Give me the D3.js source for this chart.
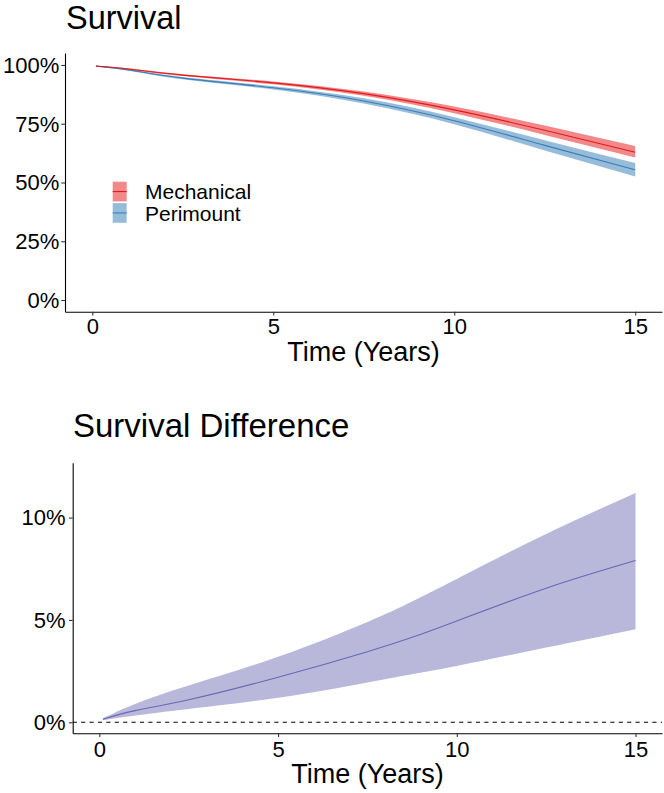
<!DOCTYPE html>
<html>
<head>
<meta charset="utf-8">
<script src="https://cdn.jsdelivr.net/npm/d3@7"></script>
<style>
  html, body { margin: 0; padding: 0; background: #fff; }
  svg { display: block; font-family: "Liberation Sans", Arial, Helvetica, sans-serif; }
</style>
</head>
<body>
<svg id="chart" width="664" height="793"></svg>
<script>
// ---- Data ----
const times = [0.1, 1, 2.5, 5, 7.5, 10, 12.5, 15];

const mechanical     = [99.6, 98.3, 95.7, 92.4, 87.8, 80.9, 72.2, 62.9];
const mechanicalLow  = [99.5, 98.0, 95.3, 91.8, 86.9, 79.5, 70.2, 60.6];
const mechanicalHigh = [99.7, 98.6, 96.1, 93.0, 88.7, 82.3, 74.2, 65.5];

const perimount      = [99.5, 97.9, 94.4, 90.3, 84.7, 76.3, 65.8, 55.4];
const perimountLow   = [99.4, 97.6, 93.9, 89.6, 83.6, 74.8, 63.6, 52.6];
const perimountHigh  = [99.6, 98.2, 94.9, 91.0, 85.8, 77.8, 68.0, 58.3];

const diffTimes = [0.1, 1, 2.5, 5, 7.5, 8.75, 10, 12.5, 15];
const diff     = [0.15, 0.57, 1.10, 2.20, 3.45, 4.15, 4.95, 6.55, 7.90];
const diffLow  = [0.10, 0.33, 0.65, 1.20, 1.95, 2.35, 2.75, 3.65, 4.55];
const diffHigh = [0.20, 0.90, 1.80, 3.20, 4.90, 5.90, 7.00, 9.20, 11.20];

const xTicks = [0, 5, 10, 15];
const survivalTicks = [0, 25, 50, 75, 100];
const diffTicks = [0, 5, 10];
const seriesNames = ["Mechanical", "Perimount"];

// ---- Styles ----
const redLine = "#E41A1C", redFill = "rgba(228,26,28,0.52)";
const blueLine = "#377EB8", blueFill = "rgba(55,126,184,0.52)";
const purpleLine = "#6A66B6", purpleFill = "#B9B8DB";

const svg = d3.select("#chart");

function rows(ts, lo, mid, hi) {
  return ts.map((t, i) => ({ t, lo: lo[i], mid: mid[i], hi: hi[i] }));
}

function styleAxis(g) {
  g.select(".domain").attr("stroke", "#000").attr("stroke-width", 1.1);
  g.selectAll(".tick line").attr("stroke", "#333").attr("stroke-width", 1.1);
  g.selectAll(".tick text").attr("fill", "#000").attr("font-size", 22)
    .attr("font-family", "Liberation Sans, Arial, sans-serif");
}

// ================= Panel 1: Survival =================
{
  const x = d3.scaleLinear().domain([-0.754, 15.74]).range([65, 662]);
  const y = d3.scaleLinear().domain([-4.98, 105.1]).range([311.7, 53]);

  const g = svg.append("g");

  const area = d3.area().curve(d3.curveNatural)
    .x(d => x(d.t)).y0(d => y(d.lo)).y1(d => y(d.hi));
  const line = d3.line().curve(d3.curveNatural)
    .x(d => x(d.t)).y(d => y(d.mid));

  const mech = rows(times, mechanicalLow, mechanical, mechanicalHigh);
  const peri = rows(times, perimountLow, perimount, perimountHigh);

  g.append("path").datum(peri).attr("d", area).attr("fill", blueFill);
  g.append("path").datum(mech).attr("d", area).attr("fill", redFill);
  g.append("path").datum(peri).attr("d", line).attr("fill", "none").attr("stroke", blueLine).attr("stroke-width", 1.1);
  g.append("path").datum(mech).attr("d", line).attr("fill", "none").attr("stroke", redLine).attr("stroke-width", 1.1);

  const xa = g.append("g").attr("transform", "translate(0,311.7)")
    .call(d3.axisBottom(x).tickValues(xTicks).tickSizeOuter(0).tickSizeInner(3.7).tickPadding(3));
  styleAxis(xa);
  xa.selectAll(".tick text").attr("y", 0).attr("dy", 0).attr("transform", "translate(0,22.3)");

  const ya = g.append("g").attr("transform", "translate(65,0)")
    .call(d3.axisLeft(y).tickValues(survivalTicks).tickSizeOuter(0).tickSizeInner(3.7).tickPadding(2)
      .tickFormat(d => d + "%"));
  styleAxis(ya);
  ya.selectAll(".tick text").attr("dy", "0.33em");

  // Title
  svg.append("text").attr("x", 66).attr("y", 29).attr("font-size", 32.5).attr("fill", "#000")
    .text("Survival");

  // Axis title
  svg.append("text").attr("x", 363.5).attr("y", 361).attr("text-anchor", "middle")
    .attr("font-size", 27).attr("fill", "#000").text("Time (Years)");

  // Legend
  const legendY = [181.7, 203.1];
  const fills = [redFill, blueFill];
  const strokes = [redLine, blueLine];
  seriesNames.forEach((name, i) => {
    const lg = svg.append("g").attr("transform", `translate(112.7,${legendY[i]})`);
    lg.append("rect").attr("width", 14).attr("height", 19.7).attr("fill", fills[i]);
    lg.append("line").attr("x1", 0).attr("x2", 14).attr("y1", 9.85).attr("y2", 9.85)
      .attr("stroke", strokes[i]).attr("stroke-width", 1.1);
    lg.append("text").attr("x", 32.3).attr("y", 17.4).attr("font-size", 21).attr("fill", "#000")
      .text(name);
  });
}

// ================= Panel 2: Survival Difference =================
{
  const x = d3.scaleLinear().domain([-0.744, 15.74]).range([72.7, 662]);
  const y = d3.scaleLinear().domain([-0.537, 12.68]).range([733.3, 462.7]);

  const g = svg.append("g");
  const data = rows(diffTimes, diffLow, diff, diffHigh);

  const area = d3.area().curve(d3.curveNatural)
    .x(d => x(d.t)).y0(d => y(d.lo)).y1(d => y(d.hi));
  const line = d3.line().curve(d3.curveNatural)
    .x(d => x(d.t)).y(d => y(d.mid));

  g.append("path").datum(data).attr("d", area).attr("fill", purpleFill);
  g.append("path").datum(data).attr("d", line).attr("fill", "none")
    .attr("stroke", purpleLine).attr("stroke-width", 1.1);

  // Reference line at 0
  g.append("line").attr("x1", x.range()[0]).attr("x2", x.range()[1])
    .attr("y1", y(0)).attr("y2", y(0))
    .attr("stroke", "#000").attr("stroke-width", 1.1).attr("stroke-dasharray", "4.2,4.2");

  const xa = g.append("g").attr("transform", "translate(0,733.3)")
    .call(d3.axisBottom(x).tickValues(xTicks).tickSizeOuter(0).tickSizeInner(3.7).tickPadding(3));
  styleAxis(xa);
  xa.selectAll(".tick text").attr("y", 0).attr("dy", 0).attr("transform", "translate(0,23.6)");

  const ya = g.append("g").attr("transform", "translate(72.7,0)")
    .call(d3.axisLeft(y).tickValues(diffTicks).tickSizeOuter(0).tickSizeInner(3.7).tickPadding(3.5)
      .tickFormat(d => d + "%"));
  styleAxis(ya);
  ya.selectAll(".tick text").attr("dy", "0.33em");

  svg.append("text").attr("x", 73).attr("y", 437).attr("font-size", 33).attr("fill", "#000")
    .text("Survival Difference");

  svg.append("text").attr("x", 367.5).attr("y", 783).attr("text-anchor", "middle")
    .attr("font-size", 27).attr("fill", "#000").text("Time (Years)");
}
</script>
</body>
</html>
